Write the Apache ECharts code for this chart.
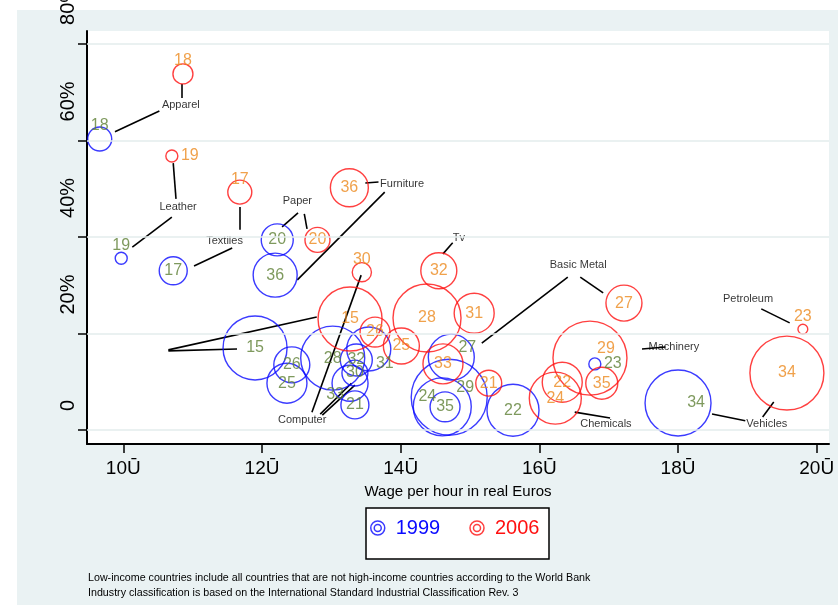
<!DOCTYPE html>
<html>
<head>
<meta charset="utf-8">
<script src="https://cdn.jsdelivr.net/npm/echarts@6.0.0/dist/echarts.min.js"></script>
<style>
  html, body { margin: 0; padding: 0; background: #ffffff; }
  #chart { width: 838px; height: 605px; }
</style>
</head>
<body>
<div id="chart"></div>
<script>
// Industry (ISIC Rev. 3 code), wage per hour, share of imports from low-income countries, bubble weight
const ind1999 = [18, 19, 17, 20, 36, 15, 26, 25, 28, 32, 30, 33, 21, 31, 27, 29, 24, 35, 22, 23, 34];
const wage1999 = [9.66, 9.97, 10.72, 12.22, 12.19, 11.90, 12.43, 12.36, 13.02, 13.36, 13.34, 13.27, 13.34, 13.54, 14.73, 14.70, 14.60, 14.64, 15.62, 16.80, 18.00];
const share1999 = [60.3, 35.6, 33.0, 39.4, 32.1, 17.0, 13.5, 9.7, 14.9, 14.5, 11.8, 9.7, 5.2, 16.8, 15.1, 6.8, 4.8, 4.8, 4.1, 13.7, 5.6];
const weight1999 = [36, 9, 49, 64, 121, 256, 81, 100, 256, 64, 42, 81, 49, 121, 132, 361, 210, 56, 169, 9, 272];

const ind2006 = [18, 19, 17, 20, 36, 15, 30, 26, 25, 28, 32, 31, 33, 21, 27, 24, 22, 29, 35, 34, 23];
const wage2006 = [10.86, 10.70, 11.68, 12.80, 13.26, 13.27, 13.44, 13.63, 14.01, 14.38, 14.55, 15.06, 14.61, 15.27, 17.22, 16.23, 16.33, 16.73, 16.90, 19.57, 19.80];
const share2006 = [73.8, 56.8, 49.3, 39.4, 50.2, 23.0, 32.7, 20.3, 17.4, 23.2, 33.0, 24.2, 13.7, 9.7, 26.3, 6.6, 9.9, 14.9, 9.7, 11.8, 20.9];
const weight2006 = [25, 9, 36, 39, 90, 256, 23, 56, 81, 289, 81, 100, 100, 42, 81, 169, 100, 342, 64, 342, 6];

// Marker label clock positions (0 = centred on the bubble)
const clock1999 = [12, 12, 0, 0, 0, 0, 0, 0, 0, 0, 0, 8, 0, 4, 2, 2, 10, 0, 0, 3, 3];
const clock2006 = [12, 3, 12, 0, 0, 0, 12, 0, 0, 0, 0, 0, 0, 0, 0, 0, 0, 2, 0, 0, 12];

// Axis ticks
const xTicks = [10, 12, 14, 16, 18, 20];
const yTicks = [0, 20, 40, 60, 80];
const xTickLabels = ['10Ū', '12Ū', '14Ū', '16Ū', '18Ū', '20Ū'];

// Industry name annotations (placed in data units) and their leader lines
const industryNames = ['Apparel', 'Leather', 'Textiles', 'Paper', 'Furniture', 'Tv', 'Basic Metal', 'Machinery', 'Petroleum', 'Computer', 'Chemicals', 'Vehicles'];
const industryNameAt = [
  [10.83, 67.4], [10.79, 46.2], [11.46, 39.2], [12.51, 47.5], [14.02, 51.0], [14.84, 39.8],
  [16.56, 34.2], [17.94, 17.2], [19.01, 27.2], [12.58, 2.1], [16.96, 1.2], [19.28, 1.2]
];
const leaderLines = [
  [[9.88, 61.8], [10.52, 66.1]],
  [[10.85, 71.7], [10.85, 68.8]],
  [[10.72, 55.3], [10.76, 47.9]],
  [[10.70, 44.1], [10.13, 37.9]],
  [[11.68, 46.2], [11.68, 41.5]],
  [[11.57, 37.7], [11.02, 34.0]],
  [[12.52, 45.0], [12.29, 42.1]],
  [[12.61, 44.8], [12.65, 41.7]],
  [[13.49, 51.2], [13.68, 51.4]],
  [[13.77, 49.3], [12.51, 31.1]],
  [[10.65, 16.6], [12.79, 23.4]],
  [[10.65, 16.4], [11.64, 16.8]],
  [[14.61, 36.5], [14.75, 38.8]],
  [[13.43, 32.1], [12.72, 3.7]],
  [[13.34, 9.3], [12.87, 3.1]],
  [[13.29, 9.7], [12.84, 3.3]],
  [[15.17, 18.0], [16.41, 31.7]],
  [[16.59, 31.7], [16.92, 28.4]],
  [[17.48, 16.8], [17.82, 17.2]],
  [[19.20, 25.1], [19.61, 22.2]],
  [[16.51, 3.7], [17.02, 2.5]],
  [[18.49, 3.3], [18.97, 1.9]],
  [[19.38, 5.8], [19.22, 2.7]]
];

const footNotes = [
  'Low-income countries include all countries that are not high-income countries according to the World Bank',
  'Industry classification is based on the International Standard Industrial Classification Rev. 3'
];

const FONT = "'Liberation Sans', Arial, sans-serif";
const BLUE = '#0a0aff';
const RED = '#ff1010';
const GREEN_LBL = '#5e7f34';
const ORANGE_LBL = '#ec8a1e';
const BG = '#eaf2f3';

const clockOffset = {
  0: [0, 0], 12: [0, -13], 3: [18, 0], 2: [16, -10], 4: [16, 15], 8: [-15, 11], 10: [-15, -10]
};

function bubbles(ind, wage, share, weight, clock) {
  return ind.map((code, i) => ({
    name: String(code),
    value: [wage[i], share[i], weight[i]],
    label: { offset: clockOffset[clock[i]] }
  }));
}

function bubbleSeries(name, data, stroke, labelColor) {
  return {
    name: name,
    type: 'scatter',
    data: data,
    symbol: 'circle',
    symbolSize: v => 4 * Math.sqrt(v[2]),
    itemStyle: { color: 'transparent', borderColor: stroke, borderWidth: 1.4 },
    label: {
      show: true,
      position: 'inside',
      formatter: '{b}',
      color: labelColor,
      fontSize: 16,
      fontFamily: FONT,
      align: 'center',
      verticalAlign: 'middle'
    },
    emphasis: { disabled: true },
    silent: true,
    z: 3
  };
}

const ringIcon = 'path://M0,6a6,6 0 1,0 12,0a6,6 0 1,0 -12,0Z M3,6a3,3 0 1,0 6,0a3,3 0 1,0 -6,0Z';

const chart = echarts.init(document.getElementById('chart'), null, { renderer: 'canvas' });

chart.setOption({
  animation: false,
  backgroundColor: '#ffffff',
  textStyle: { fontFamily: FONT },
  graphic: [
    { type: 'rect', z: -10, silent: true, shape: { x: 17, y: 10, width: 821, height: 595 }, style: { fill: BG } },
    { type: 'rect', z: 10, silent: true, shape: { x: 366, y: 508, width: 183, height: 51 }, style: { fill: '#ffffff', stroke: '#000000', lineWidth: 1.5 } },
    { type: 'text', z: 10, silent: true, x: 88, y: 578, style: { text: footNotes[0], fontSize: 10.7, fontFamily: FONT, fill: '#000', verticalAlign: 'middle' } },
    { type: 'text', z: 10, silent: true, x: 88, y: 593, style: { text: footNotes[1], fontSize: 10.7, fontFamily: FONT, fill: '#000', verticalAlign: 'middle' } }
  ],
  legend: {
    left: 370,
    top: 518,
    padding: 0,
    itemWidth: 26,
    itemHeight: 14,
    itemGap: 29,
    z: 20,
    selectedMode: false,
    icon: ringIcon,
    itemStyle: { color: 'transparent', borderWidth: 1.5 },
    textStyle: { fontSize: 20, lineHeight: 20, fontFamily: FONT },
    data: [
      { name: '1999', textStyle: { color: BLUE }, itemStyle: { borderColor: BLUE } },
      { name: '2006', textStyle: { color: RED }, itemStyle: { borderColor: RED } }
    ]
  },
  grid: {
    left: 87, right: 9, top: 31, bottom: 161,
    outerBoundsMode: 'none',
    containLabel: false,
    show: true, backgroundColor: '#ffffff', borderWidth: 0
  },
  xAxis: {
    type: 'value',
    min: 9.4765,
    max: 20.177,
    name: 'Wage per hour in real Euros',
    nameLocation: 'middle',
    nameGap: 40,
    nameTextStyle: { fontSize: 15, color: '#000', fontFamily: FONT },
    axisLine: { show: true, onZero: false, lineStyle: { color: '#000', width: 2 } },
    axisTick: { show: true, customValues: xTicks, length: 9, lineStyle: { color: '#000', width: 1.5 } },
    axisLabel: {
      customValues: xTicks,
      margin: 15,
      fontSize: 19,
      color: '#000',
      fontFamily: FONT,
      formatter: v => xTickLabels[xTicks.indexOf(Math.round(v))] || ''
    },
    splitLine: { show: false }
  },
  yAxis: {
    type: 'value',
    min: -2.9,
    max: 82.69,
    axisLine: { show: true, onZero: false, lineStyle: { color: '#000', width: 2 } },
    axisTick: { show: true, customValues: yTicks, length: 9, lineStyle: { color: '#000', width: 1.5 } },
    axisLabel: {
      customValues: yTicks,
      rotate: 90,
      align: 'left',
      verticalAlign: 'middle',
      padding: [0, 0, 0, 19],
      margin: 19,
      fontSize: 20,
      color: '#000',
      fontFamily: FONT,
      formatter: v => (v === 0 ? '0' : v + '%')
    },
    splitLine: { show: false }
  },
  series: [
    {
      name: 'gridlines',
      type: 'scatter',
      data: [],
      silent: true,
      z: 1,
      markLine: {
        silent: true,
        symbol: 'none',
        animation: false,
        label: { show: false },
        lineStyle: { color: '#e3eced', width: 1.5, type: 'solid' },
        data: yTicks.map(v => ({ yAxis: v }))
      }
    },
    bubbleSeries('1999', bubbles(ind1999, wage1999, share1999, weight1999, clock1999), BLUE, GREEN_LBL),
    bubbleSeries('2006', bubbles(ind2006, wage2006, share2006, weight2006, clock2006), RED, ORANGE_LBL),
    {
      name: 'leaders',
      type: 'lines',
      coordinateSystem: 'cartesian2d',
      silent: true,
      z: 2,
      lineStyle: { color: '#000', width: 1.6, opacity: 1 },
      data: leaderLines.map(c => ({ coords: c }))
    },
    {
      name: 'industries',
      type: 'scatter',
      silent: true,
      symbolSize: 0,
      z: 4,
      data: industryNames.map((n, i) => ({ name: n, value: industryNameAt[i] })),
      label: {
        show: true,
        position: 'inside',
        formatter: '{b}',
        color: '#000',
        fontSize: 11,
        fontFamily: FONT
      }
    }
  ]
});
</script>
</body>
</html>
